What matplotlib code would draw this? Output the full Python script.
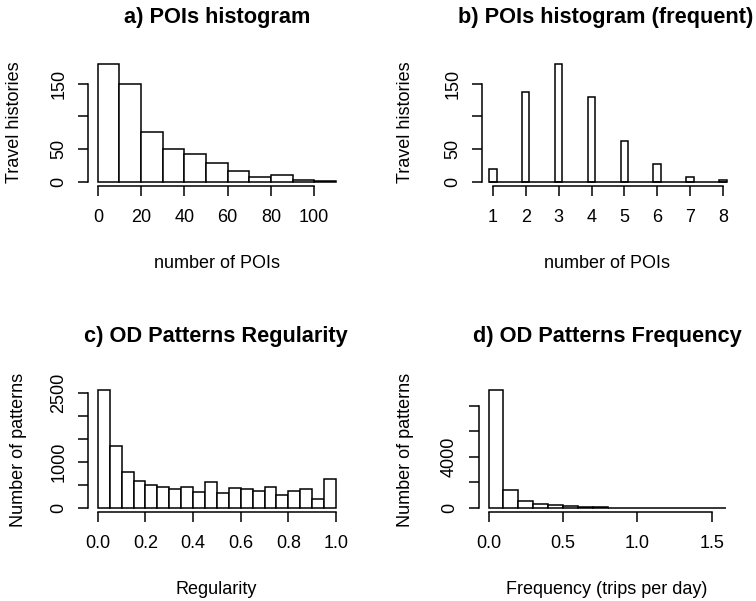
import numpy as np
import matplotlib
matplotlib.use("Agg")
import matplotlib.pyplot as plt

plt.rcParams['font.family'] = ['Liberation Sans', 'DejaVu Sans']

W, H = 756, 601

# a) POIs histogram, bins of 10 from 0 to 110
poi_counts = [180, 150, 76, 50, 43, 29, 17, 7, 10, 2, 1]
poi_bin = 10

# b) POIs histogram (frequent), one bar per number of POIs
freq_pois = [1, 2, 3, 4, 5, 6, 7, 8]
freq_counts = [19, 138, 180, 130, 62, 27, 8, 3]

# c) OD patterns regularity, bins of 0.05 from 0 to 1
reg_counts = [2565, 1337, 785, 589, 487, 458, 400, 443, 349, 552,
              312, 429, 400, 356, 450, 283, 356, 414, 196, 618]
reg_bin = 0.05

# d) OD patterns frequency, bins of 0.1 from 0 to 1.6
fr_counts = [9230, 1390, 495, 290, 210, 130, 70, 60,
             10, 8, 5, 3, 2, 2, 1, 1]
fr_bin = 0.1

LW = 1.1
TICK_FS = 13
TITLE_FS = 15.7


def px_axes(fig, left, right, top, bottom):
    return fig.add_axes([left / W, 1 - bottom / H, (right - left) / W, (bottom - top) / H])


def px_text(fig, x, y, s, **kw):
    fig.text(x / W, 1 - y / H, s, ha='center', va='center', **kw)


def r_style(ax, xticks, xlabels, yticks, ylabels):
    for side in ('top', 'right'):
        ax.spines[side].set_visible(False)
    for side in ('left', 'bottom'):
        ax.spines[side].set_linewidth(LW)
    ax.spines['bottom'].set_bounds(xticks[0], xticks[-1])
    ax.spines['left'].set_bounds(yticks[0], yticks[-1])
    ax.set_xticks(xticks, xlabels)
    ax.set_yticks(yticks, ylabels, rotation=90, va='center')
    ax.tick_params(axis='both', length=7.2, width=LW, labelsize=TICK_FS)
    ax.tick_params(axis='x', pad=9)
    ax.tick_params(axis='y', pad=8)


def hist_bars(ax, counts, binw):
    edges = np.arange(len(counts)) * binw
    ax.bar(edges, counts, width=binw, align='edge', color='white',
           edgecolor='black', linewidth=LW)
    top = max(counts)
    right = len(counts) * binw
    ax.set_xlim(-0.04 * right, 1.04 * right)
    ax.set_ylim(-0.04 * top, 1.04 * top)


fig = plt.figure(figsize=(W / 100, H / 100), dpi=100)

# a)
ax = px_axes(fig, 88.3, 345.3, 59.5, 186.5)
hist_bars(ax, poi_counts, poi_bin)
r_style(ax, [0, 20, 40, 60, 80, 100], ['0', '20', '40', '60', '80', '100'],
        [0, 50, 100, 150], ['0', '50', '', '150'])
px_text(fig, 216.8, 17.5, "a) POIs histogram", fontsize=TITLE_FS, fontweight='bold')
px_text(fig, 216.5, 263, "number of POIs", fontsize=TICK_FS)
px_text(fig, 15, 122, "Travel histories", fontsize=TICK_FS, rotation=90)

# b)
ax = px_axes(fig, 482.3, 739.3, 59.5, 186.5)
ax.bar(np.array(freq_pois) - 0.12, freq_counts, width=0.23, align='edge',
       color='white', edgecolor='black', linewidth=LW)
ax.hlines(0, 0.88, 8.12, color='black', linewidth=LW)
ax.set_xlim(0.674, 8.495)
ax.set_ylim(-0.04 * max(freq_counts), 1.04 * max(freq_counts))
r_style(ax, freq_pois, [str(v) for v in freq_pois],
        [0, 50, 100, 150], ['0', '50', '', '150'])
px_text(fig, 606, 17.5, "b) POIs histogram (frequent)", fontsize=TITLE_FS, fontweight='bold')
px_text(fig, 607, 263, "number of POIs", fontsize=TICK_FS)
px_text(fig, 405.5, 122, "Travel histories", fontsize=TICK_FS, rotation=90)

# c)
ax = px_axes(fig, 88.3, 345.5, 385.3, 512.4)
hist_bars(ax, reg_counts, reg_bin)
r_style(ax, [0, 0.2, 0.4, 0.6, 0.8, 1.0], ['0.0', '0.2', '0.4', '0.6', '0.8', '1.0'],
        [0, 500, 1000, 1500, 2000, 2500], ['0', '', '1000', '', '', '2500'])
px_text(fig, 216, 336.5, "c) OD Patterns Regularity", fontsize=TITLE_FS, fontweight='bold')
px_text(fig, 216, 590, "Regularity", fontsize=TICK_FS)
px_text(fig, 19, 450, "Number of patterns", fontsize=TICK_FS, rotation=90)

# d)
ax = px_axes(fig, 479, 736, 385.3, 512.4)
hist_bars(ax, fr_counts, fr_bin)
r_style(ax, [0, 0.5, 1.0, 1.5], ['0.0', '0.5', '1.0', '1.5'],
        [0, 2000, 4000, 6000, 8000], ['0', '', '4000', '', ''])
px_text(fig, 607, 336.5, "d) OD Patterns Frequency", fontsize=TITLE_FS, fontweight='bold')
px_text(fig, 607, 590, "Frequency (trips per day)", fontsize=TICK_FS)
px_text(fig, 405.5, 450, "Number of patterns", fontsize=TICK_FS, rotation=90)

fig.savefig("out.png", dpi=100)
